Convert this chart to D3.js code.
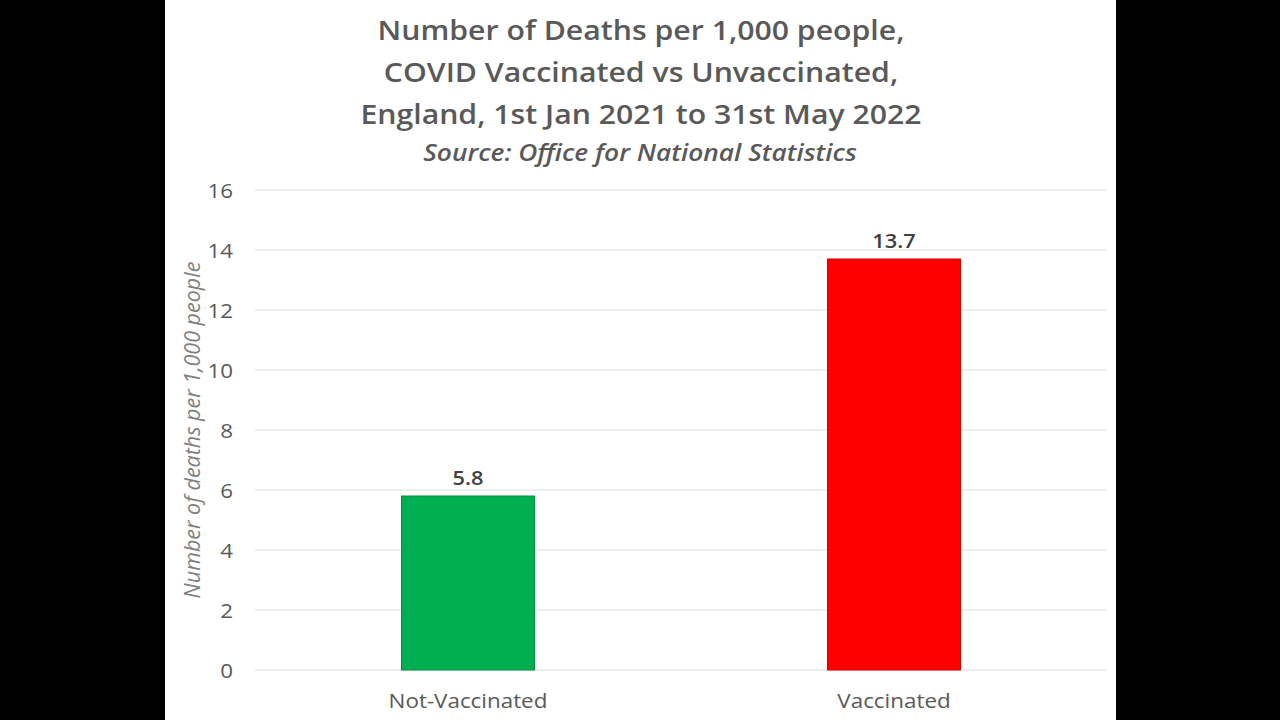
<!DOCTYPE html>
<html><head><meta charset="utf-8">
<script src="https://cdn.jsdelivr.net/npm/d3@7"></script>
<style>body{margin:0;background:#000;}svg{display:block;}</style>
</head><body>
<svg id="c" width="1280" height="720"></svg>
<script>
const categories = ["Not-Vaccinated", "Vaccinated"];
const values = [5.8, 13.7];
const colors = ["#00B050", "#FF0000"];
const yTicks = [0, 2, 4, 6, 8, 10, 12, 14, 16];
const titleLines = ["Number of Deaths per 1,000 people,", "COVID Vaccinated vs Unvaccinated,", "England, 1st Jan 2021 to 31st May 2022"];
const subtitle = "Source: Office for National Statistics";
const yTitle = "Number of deaths per 1,000 people";

const svg = d3.select("#c");
const font = "'Open Sans', Lato, sans-serif";
const SX = 1.12; // horizontal stretch of the reference
svg.append("rect").attr("x",165).attr("y",0).attr("width",951).attr("height",720).attr("fill","#fff");

const x = d3.scaleBand().domain(categories).range([255,1107]).paddingInner(0.688).paddingOuter(0.344);
const y = d3.scaleLinear().domain([0,16]).range([670,190]);

svg.append("g").selectAll("line").data(yTicks).join("line")
 .attr("x1",255).attr("x2",1107).attr("y1",d=>y(d)).attr("y2",d=>y(d))
 .attr("stroke","#e8e8e8").attr("stroke-width",1.3);

const yAxis = d3.axisLeft(y).tickValues(yTicks).tickSize(0).tickPadding(0);
const ya = svg.append("g").attr("transform","translate(233,0)").call(yAxis);
ya.select(".domain").remove();
ya.selectAll(".tick text").attr("x",0).attr("font-family",font).attr("font-size",20).attr("fill","#595959")
 .attr("dy","0.35em").attr("transform",`scale(${SX},1)`);

svg.selectAll("rect.bar").data(values).join("rect").attr("class","bar")
 .attr("x",(d,i)=>x(categories[i])).attr("width",x.bandwidth())
 .attr("y",d=>y(d)).attr("height",d=>y(0)-y(d))
 .attr("fill",(d,i)=>colors[i])
 .attr("stroke",(d,i)=>d3.color(colors[i]).darker(0.6)).attr("stroke-width",1);

svg.selectAll("text.val").data(values).join("text").attr("class","val")
 .attr("transform",(d,i)=>`translate(${x(categories[i])+x.bandwidth()/2},${y(d)-11}) scale(${SX},1)`)
 .attr("text-anchor","middle").attr("font-family",font).attr("font-weight",600)
 .attr("font-size",19.5).attr("fill","#404040").text(d=>d.toFixed(1));

const xAxis = d3.axisBottom(x).tickSize(0).tickPadding(0);
const xa = svg.append("g").attr("transform","translate(0,694)").call(xAxis);
xa.select(".domain").remove();
xa.selectAll(".tick text").attr("y",0).attr("font-family",font).attr("font-size",20).attr("fill","#595959")
 .attr("dy","0.71em").attr("transform",`scale(${SX},1)`);

svg.append("text").attr("transform","translate(200,430) rotate(-90)")
 .attr("text-anchor","middle").attr("font-family",font).attr("font-style","italic")
 .attr("font-size",21.5).attr("fill","#7f7f7f").text(yTitle);

svg.selectAll("text.t").data(titleLines).join("text").attr("class","t")
 .attr("transform",(d,i)=>`translate(641,${40+i*42}) scale(${SX},1)`).attr("text-anchor","middle")
 .attr("font-family",font).attr("font-weight",600).attr("font-size",27).attr("fill","#595959").text(d=>d);
svg.append("text").attr("transform",`translate(640,161) scale(${SX},1)`).attr("text-anchor","middle")
 .attr("font-family",font).attr("font-weight",600).attr("font-style","italic")
 .attr("font-size",23.5).attr("fill","#595959").text(subtitle);
</script>
</body></html>
